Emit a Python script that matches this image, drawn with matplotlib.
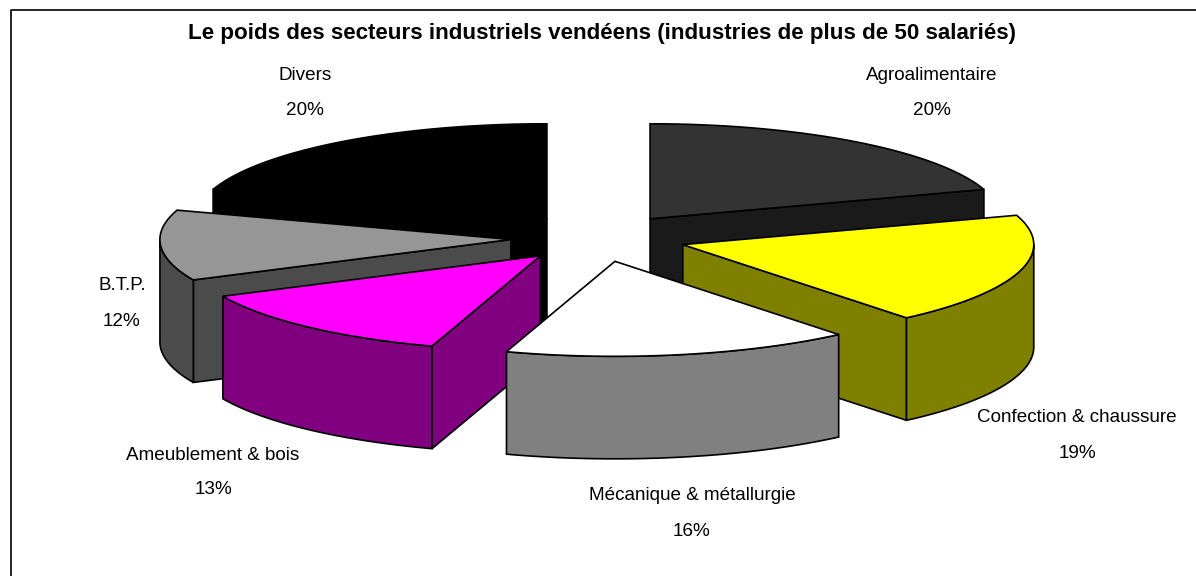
import numpy as np
import matplotlib
matplotlib.use("Agg")
import matplotlib.pyplot as plt
from matplotlib.patches import Polygon

plt.rcParams["font.family"] = ["Liberation Sans", "DejaVu Sans"]

# ------------------------------------------
# Data
# ------------------------------------------
title = "Le poids des secteurs industriels vendéens (industries de plus de 50 salariés)"
sectors = ["Agroalimentaire", "Confection & chaussure", "Mécanique & métallurgie",
           "Ameublement & bois", "B.T.P.", "Divers"]
shares = [20, 19, 16, 13, 12, 20]
top_colors = ["#333333", "#FFFF00", "#FFFFFF", "#FF00FF", "#969696", "#000000"]
wall_colors = ["#1A1A1A", "#808000", "#808080", "#800080", "#4B4B4B", "#000000"]
label_x = [932, 1077, 692, 213, 122, 305]
label_y = [75.5, 418, 496, 455, 286, 75.5]

# back slices first, the front ones paint over them
draw_order = [0, 5, 4, 1, 3, 2]

# ------------------------------------------
# Pie geometry (pixels)
# ------------------------------------------
CX, CY = 598.5, 238
RX, RY = 351, 95
DEPTH = 102.5
EXPLODE = 0.25

fig = plt.figure(figsize=(11.96, 5.76), dpi=100)
ax = fig.add_axes([0, 0, 1, 1])
ax.set_xlim(0, 1196)
ax.set_ylim(576, 0)
ax.axis("off")


def rim(cx, cy, a0, a1, drop=0):
    # angles in degrees, clockwise from 12 o'clock
    t = np.radians(np.linspace(a0, a1, 80))
    return np.column_stack([cx + RX * np.sin(t), cy - RY * np.cos(t) + drop])


def face(points, color, z):
    ax.add_patch(Polygon(points, closed=True, facecolor=color, edgecolor="black",
                         linewidth=1.2, joinstyle="miter", zorder=z))


edges = np.concatenate([[0], np.cumsum(shares)]) / sum(shares) * 360

for z, i in enumerate(draw_order):
    a0, a1 = edges[i], edges[i + 1]
    mid = np.radians((a0 + a1) / 2)
    cx = CX + EXPLODE * RX * np.sin(mid)
    cy = CY - EXPLODE * RY * np.cos(mid)
    apex = np.array([cx, cy])
    down = np.array([0, DEPTH])
    base = z * 10

    # cut faces, only the ones turned towards the viewer
    if np.sin(np.radians(a0)) < -1e-6:
        p = rim(cx, cy, a0, a0)[0]
        face([apex, p, p + down, apex + down], wall_colors[i], base)
    if np.sin(np.radians(a1)) > 1e-6:
        p = rim(cx, cy, a1, a1)[0]
        face([apex, p, p + down, apex + down], wall_colors[i], base)

    # outer wall, front half of the ellipse
    w0, w1 = max(a0, 90), min(a1, 270)
    if w1 > w0:
        upper = rim(cx, cy, w0, w1)
        lower = rim(cx, cy, w0, w1, DEPTH)
        face(np.vstack([upper, lower[::-1]]), wall_colors[i], base + 1)

    # top face
    face(np.vstack([apex, rim(cx, cy, a0, a1)]), top_colors[i], base + 2)

    ax.text(label_x[i], label_y[i], sectors[i], ha="center", va="center",
            fontsize=13.6, color="black", zorder=200)
    ax.text(label_x[i], label_y[i] + 35, f"{shares[i]}%", ha="center", va="center",
            fontsize=13.6, color="black", zorder=200)

ax.text(601.5, 33.5, title, ha="center", va="center", fontsize=16.1,
        fontweight="bold", color="black", zorder=200)

# chart frame
ax.plot([1196, 10.5, 10.5], [10, 10, 576], color="black", linewidth=1.2, zorder=300)

fig.savefig("out.png", dpi=100)
